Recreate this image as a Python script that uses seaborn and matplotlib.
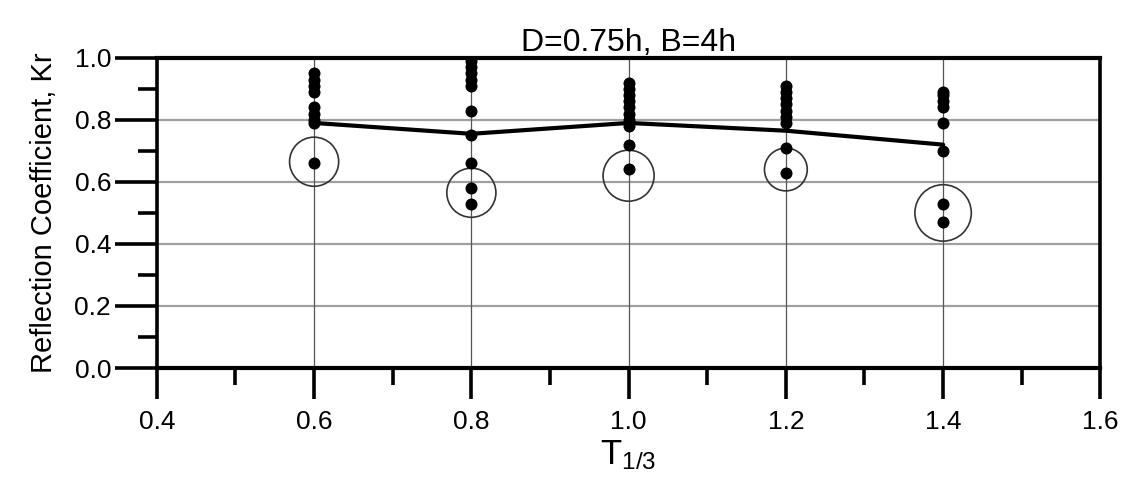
import matplotlib
matplotlib.use("Agg")
import matplotlib.pyplot as plt
import seaborn as sns
import pandas as pd
from matplotlib.ticker import MultipleLocator, FormatStrFormatter

# Measured reflection coefficients for each significant wave period
periods = [0.6, 0.8, 1.0, 1.2, 1.4]
kr_06 = [0.95, 0.93, 0.91, 0.89, 0.84, 0.82, 0.80, 0.79, 0.66]
kr_08 = [0.99, 0.97, 0.95, 0.93, 0.91, 0.83, 0.75, 0.66, 0.58, 0.53]
kr_10 = [0.92, 0.90, 0.88, 0.86, 0.84, 0.82, 0.80, 0.78, 0.72, 0.64]
kr_12 = [0.91, 0.89, 0.87, 0.85, 0.83, 0.81, 0.79, 0.71, 0.63]
kr_14 = [0.89, 0.88, 0.86, 0.84, 0.79, 0.70, 0.53, 0.47]

# Trend line through the bulk of the measurements
trend_kr = [0.79, 0.755, 0.79, 0.765, 0.72]

# Highlighted outlier groups (circled)
circle_t = [0.6, 0.8, 1.0, 1.2, 1.4]
circle_kr = [0.665, 0.565, 0.62, 0.64, 0.50]
circle_size = [1250, 1250, 1350, 950, 1650]

title = "D=0.75h, B=4h"
xlabel = r"$\mathregular{T_{1/3}}$"
ylabel = "Reflection Coefficient, Kr"

sns.set_theme(style="white")
plt.rcParams["font.family"] = ["Liberation Sans", "DejaVu Sans"]

rows = []
for t, vals in zip(periods, [kr_06, kr_08, kr_10, kr_12, kr_14]):
    for v in vals:
        rows.append({"T": t, "Kr": v})
pts = pd.DataFrame(rows)
trend = pd.DataFrame({"T": periods, "Kr": trend_kr})
circ = pd.DataFrame({"T": circle_t, "Kr": circle_kr, "s": circle_size})

fig = plt.figure(figsize=(11.45, 4.94), dpi=100)
ax = fig.add_axes([0.137, 0.255, 0.824, 0.628])

# grid
for y in [0.2, 0.4, 0.6, 0.8]:
    ax.axhline(y, color="#a0a0a0", lw=1.6, zorder=0)
for x in periods:
    ax.axvline(x, color="#555555", lw=0.9, zorder=0)

sns.lineplot(data=trend, x="T", y="Kr", ax=ax, color="black", lw=3.0,
             legend=False, zorder=3)
sns.scatterplot(data=pts, x="T", y="Kr", ax=ax, color="black", s=75,
                edgecolor="black", linewidth=0, legend=False, zorder=4)
for _, r in circ.iterrows():
    ax.scatter([r["T"]], [r["Kr"]], s=r["s"], facecolors="none",
               edgecolors="#333333", linewidths=1.2, zorder=2)

ax.set_xlim(0.4, 1.6)
ax.set_ylim(0.0, 1.0)
ax.xaxis.set_major_locator(MultipleLocator(0.2))
ax.xaxis.set_minor_locator(MultipleLocator(0.1))
ax.yaxis.set_major_locator(MultipleLocator(0.2))
ax.yaxis.set_minor_locator(MultipleLocator(0.1))
ax.xaxis.set_major_formatter(FormatStrFormatter("%.1f"))
ax.yaxis.set_major_formatter(FormatStrFormatter("%.1f"))

ax.tick_params(axis="x", which="major", direction="out", length=22, width=2.6,
               labelsize=19, pad=8, bottom=True, colors="black")
ax.tick_params(axis="x", which="minor", direction="out", length=12, width=2.6,
               bottom=True, colors="black")
ax.tick_params(axis="y", which="major", direction="out", length=30, width=2.6,
               labelsize=19, pad=3, left=True, colors="black")
ax.tick_params(axis="y", which="minor", direction="out", length=14, width=2.6,
               left=True, colors="black")

for side, lw in [("top", 3.0), ("bottom", 3.0), ("left", 2.6), ("right", 2.6)]:
    ax.spines[side].set_visible(True)
    ax.spines[side].set_color("black")
    ax.spines[side].set_linewidth(lw)

ax.set_title(title, fontsize=23, pad=3, color="black")
ax.set_xlabel(xlabel, fontsize=25, labelpad=3, color="black")
ax.set_ylabel(ylabel, fontsize=21, labelpad=12, color="black")

fig.savefig("out.png", dpi=100)
